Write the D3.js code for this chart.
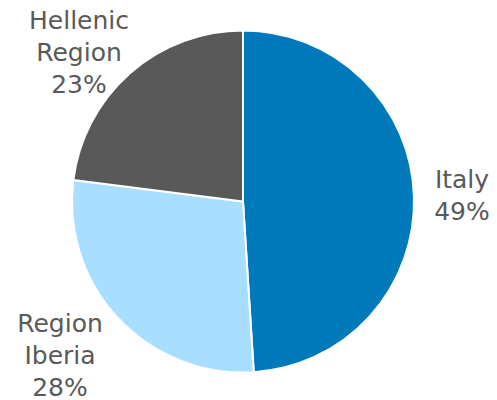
<!DOCTYPE html>
<html>
<head>
<meta charset="utf-8">
<script src="https://cdn.jsdelivr.net/npm/d3@7"></script>
<style>
  html, body { margin: 0; padding: 0; background: #fff; }
  svg { display: block; }
</style>
</head>
<body>
<svg id="chart" width="497" height="400"></svg>
<script>
// Share of total by region
const regions = ["Italy", "Region Iberia", "Hellenic Region"];
const shares = [49, 28, 23];
const colors = ["#0079BA", "#A8DEFF", "#595959"];
// Label lines per slice and where each label block sits
const labelLines = [["Italy", "49%"], ["Region", "Iberia", "28%"], ["Hellenic", "Region", "23%"]];
const labelPos = [[462, 188], [60, 332], [79, 29]];

const svg = d3.select("#chart");
const cx = 243, cy = 201.5, r = 171;

const pie = d3.pie().sort(null).value(d => d)(shares);
const arc = d3.arc().innerRadius(0).outerRadius(r);

const g = svg.append("g").attr("transform", `translate(${cx},${cy})`);
g.selectAll("path")
  .data(pie)
  .join("path")
  .attr("d", arc)
  .attr("fill", (d, i) => colors[i])
  .attr("stroke", "#fff")
  .attr("stroke-width", 2)
  .attr("stroke-linejoin", "round");

const lineH = 32;
labelLines.forEach((lines, i) => {
  const t = svg.append("text")
    .attr("x", labelPos[i][0])
    .attr("y", labelPos[i][1])
    .attr("text-anchor", "middle")
    .attr("font-family", "'DejaVu Sans', Verdana, sans-serif")
    .attr("font-size", 25)
    .attr("fill", "#595959");
  lines.forEach((s, k) => {
    t.append("tspan")
      .attr("x", labelPos[i][0])
      .attr("y", labelPos[i][1] + k * lineH)
      .text(s);
  });
});
</script>
</body>
</html>
